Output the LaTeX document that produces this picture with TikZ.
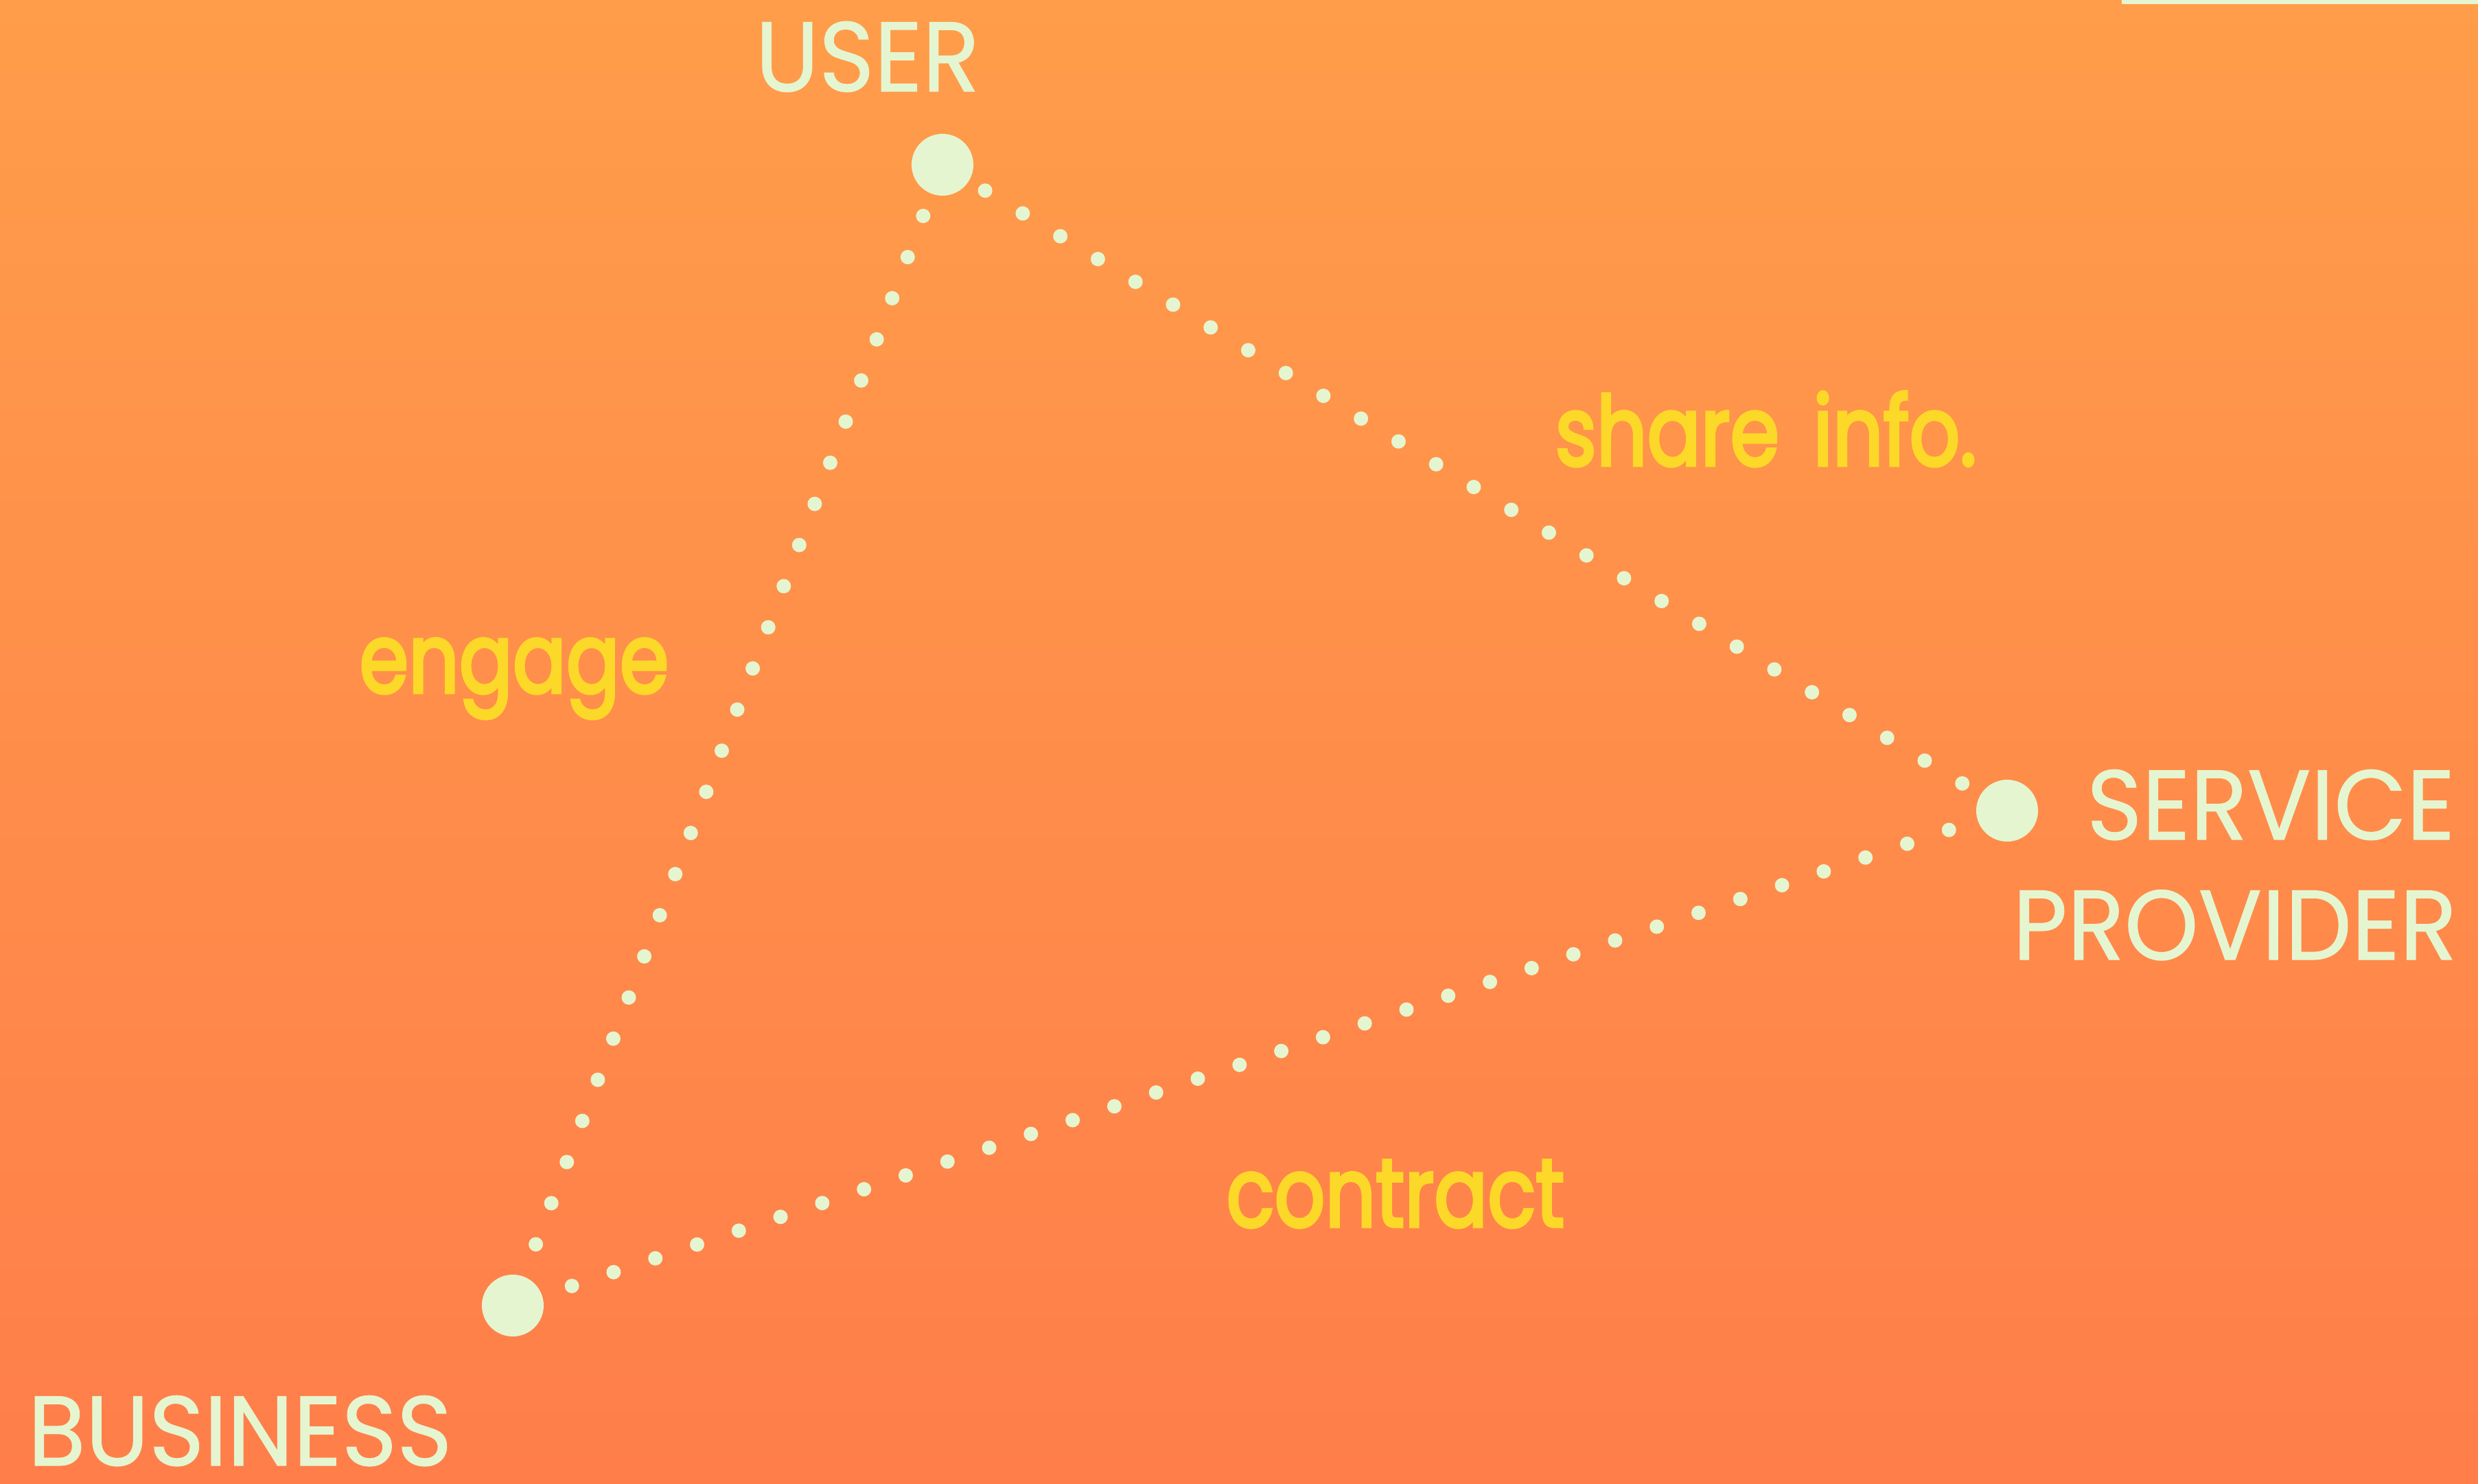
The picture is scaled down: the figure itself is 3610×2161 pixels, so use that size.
\documentclass[tikz,border=0pt]{standalone}
\usepackage{fontspec}
\setmainfont{Poppins}
\newfontfamily\rolefont{Poppins}[FakeBold=0.8]
\newfontfamily\verbfont{Poppins}[FakeBold=3.5, WordSpace=1.6]
\definecolor{bgtop}{RGB}{255,157,74}
\definecolor{bgbottom}{RGB}{255,126,74}
\definecolor{mint}{RGB}{229,245,208}
\definecolor{sun}{RGB}{252,216,41}
\usetikzlibrary{positioning}
\tikzset{
  bigdot/.style={circle, fill=mint, minimum size=0.9cm, inner sep=0pt},
  dotline/.style={mint, line width=0.21cm, line cap=round, dash pattern=on 0pt off 0.64cm},
  role/.style={text=mint, inner sep=0pt, xscale=0.95, font=\rolefont\fontsize{41}{49}\selectfont},
  verb/.style={text=sun, inner sep=0pt, xscale=0.82, font=\verbfont\fontsize{40}{48}\selectfont}
}

\begin{document}
\begin{tikzpicture}[x=0.01cm, y=-0.01cm]
  \useasboundingbox (0,0) rectangle (3610,2161);
  \shade [top color=bgtop, bottom color=bgbottom] (0,0) rectangle (3610,2161);
  \fill [mint] (3091,0) rectangle (3610,6);

  \node [bigdot] (user) at (1373,240) {};
  \node [bigdot] (service) at (2924,1181) {};
  \node [bigdot] (business) at (747,1902) {};

  \draw [dotline, shorten <=0.27cm, shorten >=0.28cm] (user) -- (service);
  \draw [dotline, shorten <=0.34cm, shorten >=0.48cm] (user) -- (business);
  \draw [dotline, shorten <=0.45cm, shorten >=0.40cm] (business) -- (service);

  \node [role, anchor=base west] (userlbl) at (1100,133) {USER};
  \node [role, anchor=base east] (servicelbl) at (3577,1223) {SERVICE};
  \node [role, anchor=base east] (providerlbl) at (3580,1398) {PROVIDER};
  \node [role, anchor=base west] (businesslbl) at (40,2135) {BUSINESS};

  \node [verb, anchor=base west] (sharelbl) at (2265,678) {share info.};
  \node [verb, anchor=base west] (engagelbl) at (523,1009) {engage};
  \node [verb, anchor=base west] (contractlbl) at (1786,1787) {contract};
\end{tikzpicture}
\end{document}
